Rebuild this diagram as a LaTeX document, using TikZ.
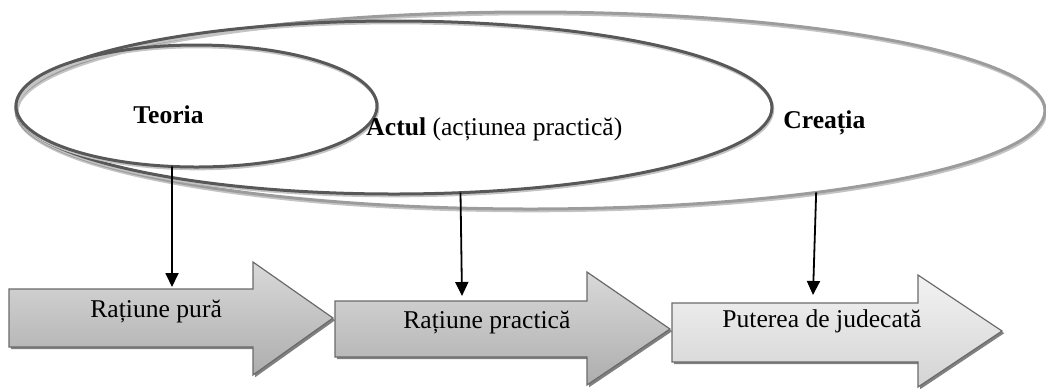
\documentclass[tikz,border=0pt]{standalone}
\usepackage{fontspec}
\setmainfont{Liberation Serif}
\usetikzlibrary{arrows.meta,shapes.geometric}
\definecolor{ringdark}{HTML}{585858}
\definecolor{ringlight}{HTML}{9C9C9C}
\definecolor{ringshade}{HTML}{C4C4C4}
\definecolor{blkline}{HTML}{6A6A6A}
\definecolor{blkshade}{HTML}{808080}

\begin{document}
\begin{tikzpicture}[x=.5pt,y=-.5pt,
  every node/.style={font=\fontsize{12.8}{15}\selectfont},
  ring/.style={ellipse,inner sep=0pt,outer sep=0pt,line width=1.5pt,draw=#1,
    preaction={draw=ringshade,line width=1.5pt,transform canvas={xshift=.4pt,yshift=-.9pt}}},
  lbl/.style={anchor=base west,inner sep=0pt},
  blk/.style={draw=blkline,line width=.6pt,
    preaction={fill=blkshade,transform canvas={xshift=1.1pt,yshift=-1.1pt}}},
  conn/.style={-{Triangle[width=6.5pt,length=7pt]},line width=.9pt}]
\useasboundingbox (0,0) rectangle (1046,388);
% the three rings
\node (creatia) [ring=ringlight,minimum width=514.5pt,minimum height=98.5pt] at (530.5,110.5) {};
\node (actul) [ring=ringdark,minimum width=378pt,minimum height=86.5pt] at (394,107.5) {};
\node (teoria) [ring=ringdark,minimum width=180.5pt,minimum height=61pt] at (196.5,106) {};
\node (lteoria) [lbl] at (133,123) {\textbf{Teoria}};
\node (lactul) [lbl] at (366,135) {\textbf{Actul} (acțiunea practică)};
\node (lcreatia) [lbl] at (783,128) {\textbf{Creația}};
% the three block arrows
\draw[blk,top color=black!15,bottom color=black!32] (9,289) -- (253,289) -- (253,262) -- (333,318)
  -- (253,375) -- (253,347) -- (9,347) -- cycle;
\draw[blk,top color=black!15,bottom color=black!32] (335,301) -- (587,301) -- (587,272) -- (670,329)
  -- (587,385) -- (587,357) -- (335,357) -- cycle;
\draw[blk,top color=black!5,bottom color=black!17] (672,303) -- (918,303) -- (918,275) -- (1002,331)
  -- (918,387) -- (918,362) -- (672,362) -- cycle;
\node (lpura) [lbl] at (90,317) {Rațiune pură};
\node (lpractica) [lbl] at (403,328) {Rațiune practică};
\node (ljudecata) [lbl] at (722,327) {Puterea de judecată};
% connectors
\coordinate (inpura) at (172,287);
\coordinate (inpractica) at (462,296);
\coordinate (injudecata) at (813,295);
\draw[conn] (teoria.248) -- (inpura);
\draw[conn] (actul.308) -- (inpractica);
\draw[conn] (creatia.344) -- (injudecata);
\end{tikzpicture}
\end{document}
